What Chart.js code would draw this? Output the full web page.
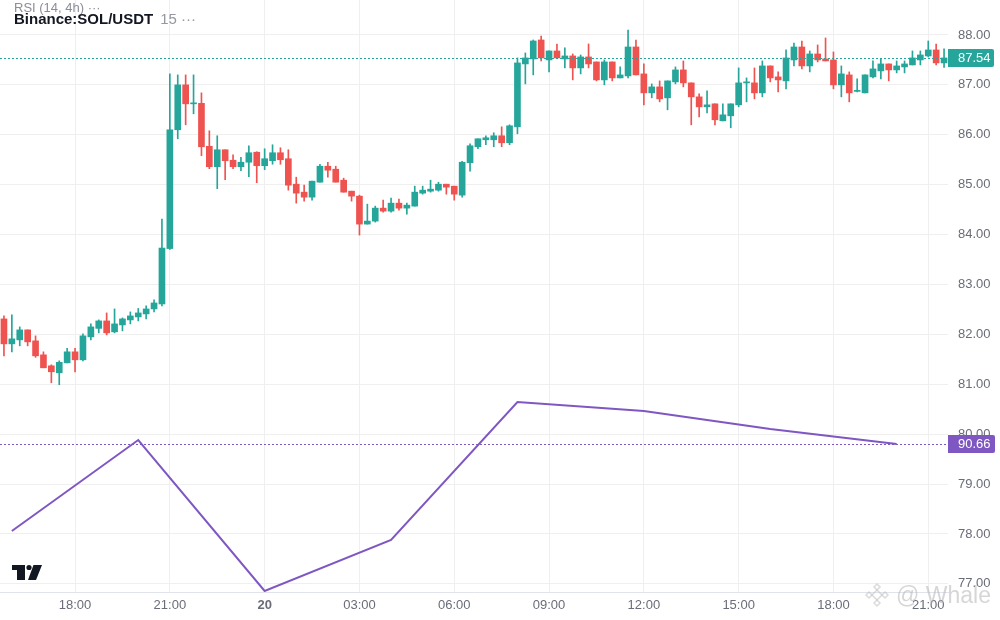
<!DOCTYPE html>
<html>
<head>
<meta charset="utf-8">
<script src="https://cdn.jsdelivr.net/npm/chart.js"></script>
<style>
  html, body { margin: 0; padding: 0; background: #fff; }
  #wrap { width: 1000px; height: 620px; position: relative; }
</style>
</head>
<body>
<div id="wrap"><canvas id="priceChart"></canvas></div>
<script>
// SOL/USDT 15m candles, 19th 15:45 -> 20th 21:30
const openPrices = [
  82.31, 81.81, 81.89, 82.09, 81.87, 81.59, 81.37, 81.23, 81.43, 81.65,
  81.49, 81.95, 82.12, 82.27, 82.05, 82.19, 82.29, 82.35, 82.41, 82.51,
  82.61, 83.72, 86.10, 87.00, 86.62, 86.63, 85.77, 85.36, 85.70, 85.49,
  85.36, 85.45, 85.65, 85.38, 85.48, 85.64, 85.52, 85.01, 84.85, 84.75,
  85.05, 85.37, 85.31, 85.09, 84.87, 84.77, 84.21, 84.27, 84.53, 84.47,
  84.63, 84.53, 84.57, 84.83, 84.87, 84.89, 85.01, 84.97, 84.79, 85.44,
  85.76, 85.90, 85.90, 85.98, 85.84, 86.16, 87.42, 87.52, 87.90, 87.50,
  87.68, 87.52, 87.58, 87.34, 87.56, 87.46, 87.10, 87.46, 87.14, 87.18,
  87.76, 87.22, 86.84, 86.96, 86.74, 87.06, 87.30, 87.04, 86.76, 86.56,
  86.62, 86.28, 86.38, 86.60, 87.04, 87.04, 86.84, 87.38, 87.16, 87.08,
  87.50, 87.76, 87.38, 87.62, 87.52, 87.50, 87.00, 87.20, 86.87, 86.84,
  87.16, 87.28, 87.42, 87.30, 87.36, 87.40, 87.50, 87.58, 87.70, 87.44
];
const highPrices = [
  82.37, 82.39, 82.15, 82.09, 81.97, 81.65, 81.39, 81.47, 81.72, 81.72,
  82.01, 82.21, 82.29, 82.43, 82.51, 82.33, 82.45, 82.52, 82.57, 82.69,
  84.31, 87.22, 87.20, 87.20, 87.20, 86.84, 86.08, 85.98, 85.70, 85.60,
  85.55, 85.78, 85.66, 85.72, 85.80, 85.74, 85.70, 85.15, 84.99, 85.07,
  85.41, 85.45, 85.37, 85.13, 84.87, 84.79, 84.61, 84.57, 84.69, 84.73,
  84.71, 84.63, 84.97, 84.97, 85.09, 85.05, 85.01, 84.97, 85.47, 85.82,
  85.92, 85.98, 86.04, 86.16, 86.20, 87.54, 87.64, 87.90, 87.98, 87.68,
  87.82, 87.74, 87.62, 87.60, 87.82, 87.46, 87.50, 87.46, 87.36, 88.10,
  87.90, 87.42, 87.02, 87.08, 87.08, 87.36, 87.48, 87.04, 86.82, 86.88,
  86.62, 86.62, 86.62, 87.34, 87.14, 87.34, 87.48, 87.38, 87.26, 87.70,
  87.84, 87.88, 87.68, 87.80, 87.94, 87.66, 87.38, 87.26, 87.12, 87.20,
  87.48, 87.52, 87.42, 87.48, 87.48, 87.68, 87.68, 87.88, 87.82, 87.72
];
const lowPrices = [
  81.57, 81.65, 81.77, 81.77, 81.54, 81.33, 81.03, 80.99, 81.43, 81.25,
  81.47, 81.89, 82.03, 81.99, 82.03, 82.07, 82.21, 82.27, 82.31, 82.45,
  82.57, 83.70, 85.92, 86.20, 86.42, 85.58, 85.32, 84.92, 85.10, 85.32,
  85.28, 85.16, 85.04, 85.30, 85.41, 85.41, 84.89, 84.63, 84.67, 84.69,
  85.05, 85.15, 85.05, 84.85, 84.67, 83.99, 84.21, 84.25, 84.45, 84.45,
  84.49, 84.41, 84.57, 84.81, 84.85, 84.87, 84.81, 84.69, 84.75, 85.27,
  85.72, 85.80, 85.76, 85.76, 85.80, 86.02, 87.02, 87.20, 87.48, 87.26,
  87.54, 87.34, 87.10, 87.22, 87.34, 87.08, 87.00, 87.08, 87.14, 87.14,
  87.20, 86.60, 86.74, 86.66, 86.50, 87.02, 86.96, 86.20, 86.36, 86.44,
  86.20, 86.28, 86.14, 86.56, 86.66, 86.72, 86.76, 87.06, 86.86, 86.92,
  87.38, 87.32, 87.26, 87.46, 87.48, 86.92, 86.76, 86.66, 86.86, 86.84,
  87.14, 87.12, 87.08, 87.24, 87.24, 87.40, 87.40, 87.56, 87.40, 87.35
];
const closePrices = [
  81.81, 81.91, 82.09, 81.85, 81.57, 81.33, 81.25, 81.44, 81.65, 81.49,
  81.97, 82.15, 82.27, 82.03, 82.21, 82.31, 82.37, 82.43, 82.51, 82.63,
  83.73, 86.10, 87.00, 86.62, 86.63, 85.76, 85.36, 85.70, 85.48, 85.36,
  85.45, 85.64, 85.38, 85.52, 85.64, 85.50, 84.99, 84.83, 84.75, 85.07,
  85.37, 85.29, 85.05, 84.85, 84.77, 84.21, 84.27, 84.53, 84.47, 84.63,
  84.53, 84.59, 84.85, 84.89, 84.91, 85.01, 84.95, 84.81, 85.45, 85.78,
  85.92, 85.94, 85.98, 85.84, 86.18, 87.44, 87.54, 87.88, 87.54, 87.68,
  87.54, 87.58, 87.34, 87.56, 87.42, 87.10, 87.46, 87.14, 87.20, 87.76,
  87.20, 86.84, 86.96, 86.72, 87.08, 87.30, 87.04, 86.76, 86.56, 86.60,
  86.30, 86.40, 86.62, 87.04, 87.05, 86.84, 87.38, 87.14, 87.10, 87.54,
  87.76, 87.38, 87.62, 87.50, 87.48, 87.00, 87.22, 86.84, 86.88, 87.20,
  87.32, 87.42, 87.30, 87.38, 87.42, 87.54, 87.60, 87.70, 87.44, 87.54
];

// RSI (14, 4h) overlay
const rsiTimes = ['19 16:00', '19 20:00', '20 00:00', '20 04:00', '20 08:00', '20 12:00', '20 16:00', '20 20:00'];
const rsiValues = [85.44, 90.90, 81.84, 84.90, 93.18, 92.64, 91.56, 90.66];

const priceTicks = [77, 78, 79, 80, 81, 82, 83, 84, 85, 86, 87, 88];

// category keys "DD HH:MM", one per 15m candle
const candleTimes = [];
for (let i = 0; i < closePrices.length; i++) {
  const m = 19 * 1440 + 15 * 60 + 45 + i * 15;
  const day = Math.floor(m / 1440), hh = Math.floor((m % 1440) / 60), mm = m % 60;
  candleTimes.push(day + ' ' + String(hh).padStart(2, '0') + ':' + String(mm).padStart(2, '0'));
}

const upColor = '#26a69a';
const downColor = '#ef5350';
const rsiColor = '#7e57c2';
const gridColor = '#efefef';
const axisText = '#6a6d78';
const fontFamily = "'Liberation Sans', Arial, sans-serif";

const candleColors = closePrices.map((c, i) => c >= openPrices[i] ? upColor : downColor);
const lastClose = closePrices[closePrices.length - 1];
const lastRsi = rsiValues[rsiValues.length - 1];

function timeTick(label) {
  const [day, hm] = label.split(' ');
  const [hh, mm] = hm.split(':').map(Number);
  if (mm !== 0 || hh % 3 !== 0) return null;
  if (hh === 0) return day;
  return hm;
}

function noPadding(s) {
  s.paddingTop = 0; s.paddingBottom = 0;
  s.paddingLeft = 0; s.paddingRight = 0;
}

function priceTag(ctx, x, y, w, color, text) {
  ctx.fillStyle = color;
  ctx.beginPath();
  ctx.roundRect(x, y - 9, w, 18, [0, 2, 2, 0]);
  ctx.fill();
  ctx.fillStyle = '#ffffff';
  ctx.font = '13px ' + fontFamily;
  ctx.textBaseline = 'middle';
  ctx.textAlign = 'left';
  ctx.fillText(text, x + 10, y + 0.5);
}

const overlay = {
  id: 'overlay',
  afterDatasetsDraw(chart) {
    const { ctx, chartArea: a, scales } = chart;
    const yClose = Math.round(scales.y.getPixelForValue(lastClose)) + 0.5;
    const yRsi = Math.round(scales.y2.getPixelForValue(lastRsi)) + 0.5;
    ctx.save();
    ctx.lineWidth = 1;
    ctx.setLineDash([2, 2]);
    ctx.strokeStyle = upColor;
    ctx.beginPath(); ctx.moveTo(a.left, yClose); ctx.lineTo(a.right, yClose); ctx.stroke();
    ctx.strokeStyle = rsiColor;
    ctx.beginPath(); ctx.moveTo(a.left, yRsi); ctx.lineTo(a.right, yRsi); ctx.stroke();
    ctx.restore();
  },
  afterDraw(chart) {
    const { ctx, chartArea: a, scales } = chart;
    ctx.save();
    priceTag(ctx, a.right, scales.y.getPixelForValue(lastClose), 46, upColor, lastClose.toFixed(2));
    priceTag(ctx, a.right, scales.y2.getPixelForValue(lastRsi), 47, rsiColor, lastRsi.toFixed(2));

    // legend
    ctx.textAlign = 'left';
    ctx.textBaseline = 'alphabetic';
    ctx.fillStyle = '#8b8e98';
    ctx.font = '13px ' + fontFamily;
    ctx.fillText('RSI (14, 4h) \u00b7\u00b7\u00b7', 14, 12);
    ctx.fillStyle = '#131722';
    ctx.font = 'bold 15px ' + fontFamily;
    ctx.fillText('Binance:SOL/USDT', 14, 24);
    const w = ctx.measureText('Binance:SOL/USDT').width;
    ctx.fillStyle = '#9598a1';
    ctx.font = '15px ' + fontFamily;
    ctx.fillText('15 \u00b7\u00b7\u00b7', 14 + w + 7, 24);

    // TV logo
    ctx.fillStyle = '#131722';
    ctx.fillRect(12, 565, 13, 5);
    ctx.fillRect(17, 565, 8, 15);
    ctx.beginPath(); ctx.arc(29, 567.5, 2.6, 0, Math.PI * 2); ctx.fill();
    ctx.beginPath();
    ctx.moveTo(33.5, 565); ctx.lineTo(42, 565); ctx.lineTo(36, 580); ctx.lineTo(28, 580);
    ctx.closePath(); ctx.fill();

    // watermark
    ctx.globalAlpha = 0.55;
    ctx.strokeStyle = '#bdbdbd';
    ctx.lineWidth = 1.5;
    const dx = 877, dy = 595;
    [[0, 0, 5], [-8, 0, 3], [8, 0, 3], [0, -8, 3], [0, 8, 3]].forEach(([ox, oy, r]) => {
      ctx.beginPath();
      ctx.moveTo(dx + ox, dy + oy - r); ctx.lineTo(dx + ox + r, dy + oy);
      ctx.lineTo(dx + ox, dy + oy + r); ctx.lineTo(dx + ox - r, dy + oy);
      ctx.closePath(); ctx.stroke();
    });
    ctx.fillStyle = '#b5b5b5';
    ctx.font = '23px ' + fontFamily;
    ctx.fillText('@ Whale', 896, 603);
    ctx.restore();
  }
};

new Chart(document.getElementById('priceChart'), {
  type: 'bar',
  data: {
    labels: candleTimes,
    datasets: [
      {
        type: 'line',
        label: 'RSI',
        data: rsiTimes.map((t, i) => ({ x: t, y: rsiValues[i] })),
        yAxisID: 'y2',
        borderColor: rsiColor,
        borderWidth: 2,
        pointRadius: 0,
        tension: 0,
        order: 0
      },
      {
        label: 'body',
        data: openPrices.map((o, i) => [o, closePrices[i]]),
        backgroundColor: candleColors,
        barThickness: 6,
        minBarLength: 1,
        grouped: false,
        order: 1
      },
      {
        label: 'wick',
        data: lowPrices.map((l, i) => [l, highPrices[i]]),
        backgroundColor: candleColors,
        barThickness: 1,
        grouped: false,
        order: 2
      }
    ]
  },
  options: {
    responsive: true,
    maintainAspectRatio: false,
    animation: false,
    layout: { padding: 0 },
    plugins: { legend: { display: false }, tooltip: { enabled: false } },
    scales: {
      x: {
        type: 'category',
        offset: true,
        afterFit: s => { s.height = 28; noPadding(s); },
        grid: { color: gridColor, offset: false, drawTicks: false },
        border: { color: '#e0e3eb' },
        ticks: {
          autoSkip: false,
          maxRotation: 0,
          padding: 6,
          color: axisText,
          font: ctx => ({ family: fontFamily, size: 13, weight: ctx.tick && ctx.tick.label === '20' ? 'bold' : 'normal' }),
          callback(value) { return timeTick(this.getLabelForValue(value)); }
        }
      },
      y: {
        position: 'right',
        min: 76.837,
        max: 88.701,
        afterBuildTicks: s => { s.ticks = priceTicks.map(v => ({ value: v })); },
        afterFit: s => { s.width = 52; noPadding(s); },
        grid: { color: gridColor, drawTicks: false },
        border: { display: false },
        ticks: {
          padding: 10,
          color: axisText,
          font: { family: fontFamily, size: 13 },
          callback: v => v.toFixed(2)
        }
      },
      y2: {
        display: false,
        min: 81.78,
        max: 117.30
      }
    }
  },
  plugins: [overlay]
});
</script>
</body>
</html>
